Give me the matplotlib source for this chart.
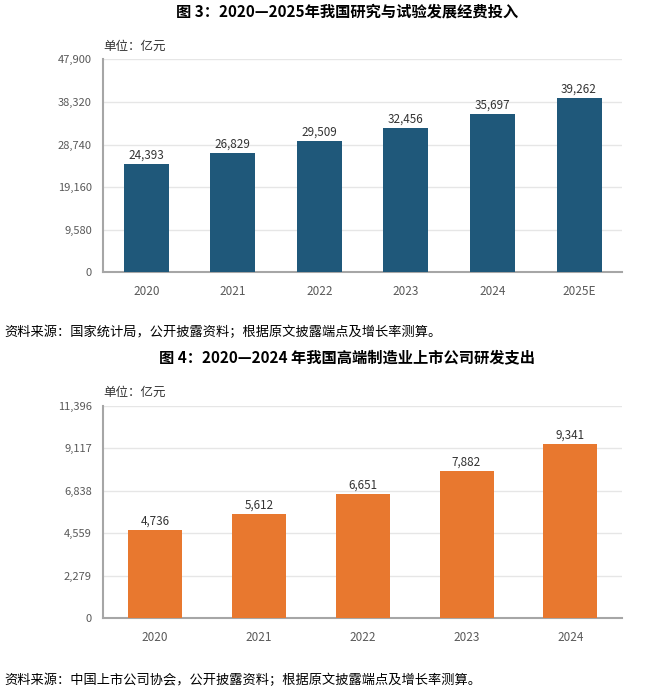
import matplotlib
matplotlib.use("Agg")
import matplotlib.pyplot as plt
import numpy as np

plt.rcParams['font.family'] = ['Noto Sans CJK SC', 'DejaVu Sans']

# ---- data ----
years1 = ["2020", "2021", "2022", "2023", "2024", "2025E"]
rd_spend = [24393, 26829, 29509, 32456, 35697, 39262]
ymax1 = 47900
yticklabels1 = ["0", "9,580", "19,160", "28,740", "38,320", "47,900"]

years2 = ["2020", "2021", "2022", "2023", "2024"]
hem_rd = [4736, 5612, 6651, 7882, 9341]
ymax2 = 11396.4
yticklabels2 = ["0", "2,279", "4,559", "6,838", "9,117", "11,396"]

title1 = "图 3：2020—2025年我国研究与试验发展经费投入"
title2 = "图 4：2020—2024 年我国高端制造业上市公司研发支出"
source1 = "资料来源：国家统计局，公开披露资料；根据原文披露端点及增长率测算。"
source2 = "资料来源：中国上市公司协会，公开披露资料；根据原文披露端点及增长率测算。"
unit = "单位：亿元"

W, H = 659, 694
fig = plt.figure(figsize=(W/100, H/100), dpi=100)

def fx(px):
    return px / W

def fy(py):
    return 1 - py / H

def draw(ax, cats, vals, ymax, ylabels, color, width):
    x = np.arange(len(cats))
    bars = ax.bar(x, vals, width=width, color=color, zorder=3)
    ax.set_xlim(-0.5, len(cats) - 0.5)
    ax.set_ylim(0, ymax)
    ticks = np.linspace(0, ymax, 6)
    ax.set_yticks(ticks)
    ax.set_yticklabels(ylabels)
    ax.set_xticks(x)
    ax.set_xticklabels(cats)
    ax.yaxis.grid(True, color="#e6e6e6", linewidth=1.0, zorder=0)
    ax.set_axisbelow(True)
    for s in ["top", "right"]:
        ax.spines[s].set_visible(False)
    for s in ["left", "bottom"]:
        ax.spines[s].set_color("#a6a6a6")
        ax.spines[s].set_linewidth(1.5)
    ax.tick_params(axis="both", length=0, colors="#595959")
    ax.tick_params(axis="y", pad=8, labelsize=8.0)
    ax.tick_params(axis="x", pad=9, labelsize=8.5)
    for b, v in zip(bars, vals):
        ax.annotate(f"{v:,}", (b.get_x() + b.get_width()/2, v),
                    xytext=(0, 1.5), textcoords="offset points",
                    ha="center", va="bottom", fontsize=8.4, color="#333333")

ax1 = fig.add_axes([fx(103), fy(272.3), fx(622.3 - 103), (272.3 - 59.3)/H])
draw(ax1, years1, rd_spend, ymax1, yticklabels1, "#1f587a", 0.52)

ax2 = fig.add_axes([fx(103), fy(618.3), fx(622.3 - 103), (618.3 - 405.5)/H])
draw(ax2, years2, hem_rd, ymax2, yticklabels2, "#e8782f", 0.52)

fig.text(fx(347), fy(12), title1, ha="center", va="center", fontsize=11,
         fontweight="bold", color="#000000")
fig.text(fx(347), fy(357), title2, ha="center", va="center", fontsize=11,
         fontweight="bold", color="#000000")
fig.text(fx(103), fy(46.7), unit, ha="left", va="center", fontsize=9, color="#333333")
fig.text(fx(103), fy(392.7), unit, ha="left", va="center", fontsize=9, color="#333333")
fig.text(fx(4), fy(332), source1, ha="left", va="center", fontsize=9.5, color="#000000")
fig.text(fx(4), fy(680), source2, ha="left", va="center", fontsize=9.5, color="#000000")

fig.savefig("out.png", dpi=100, facecolor="white")
